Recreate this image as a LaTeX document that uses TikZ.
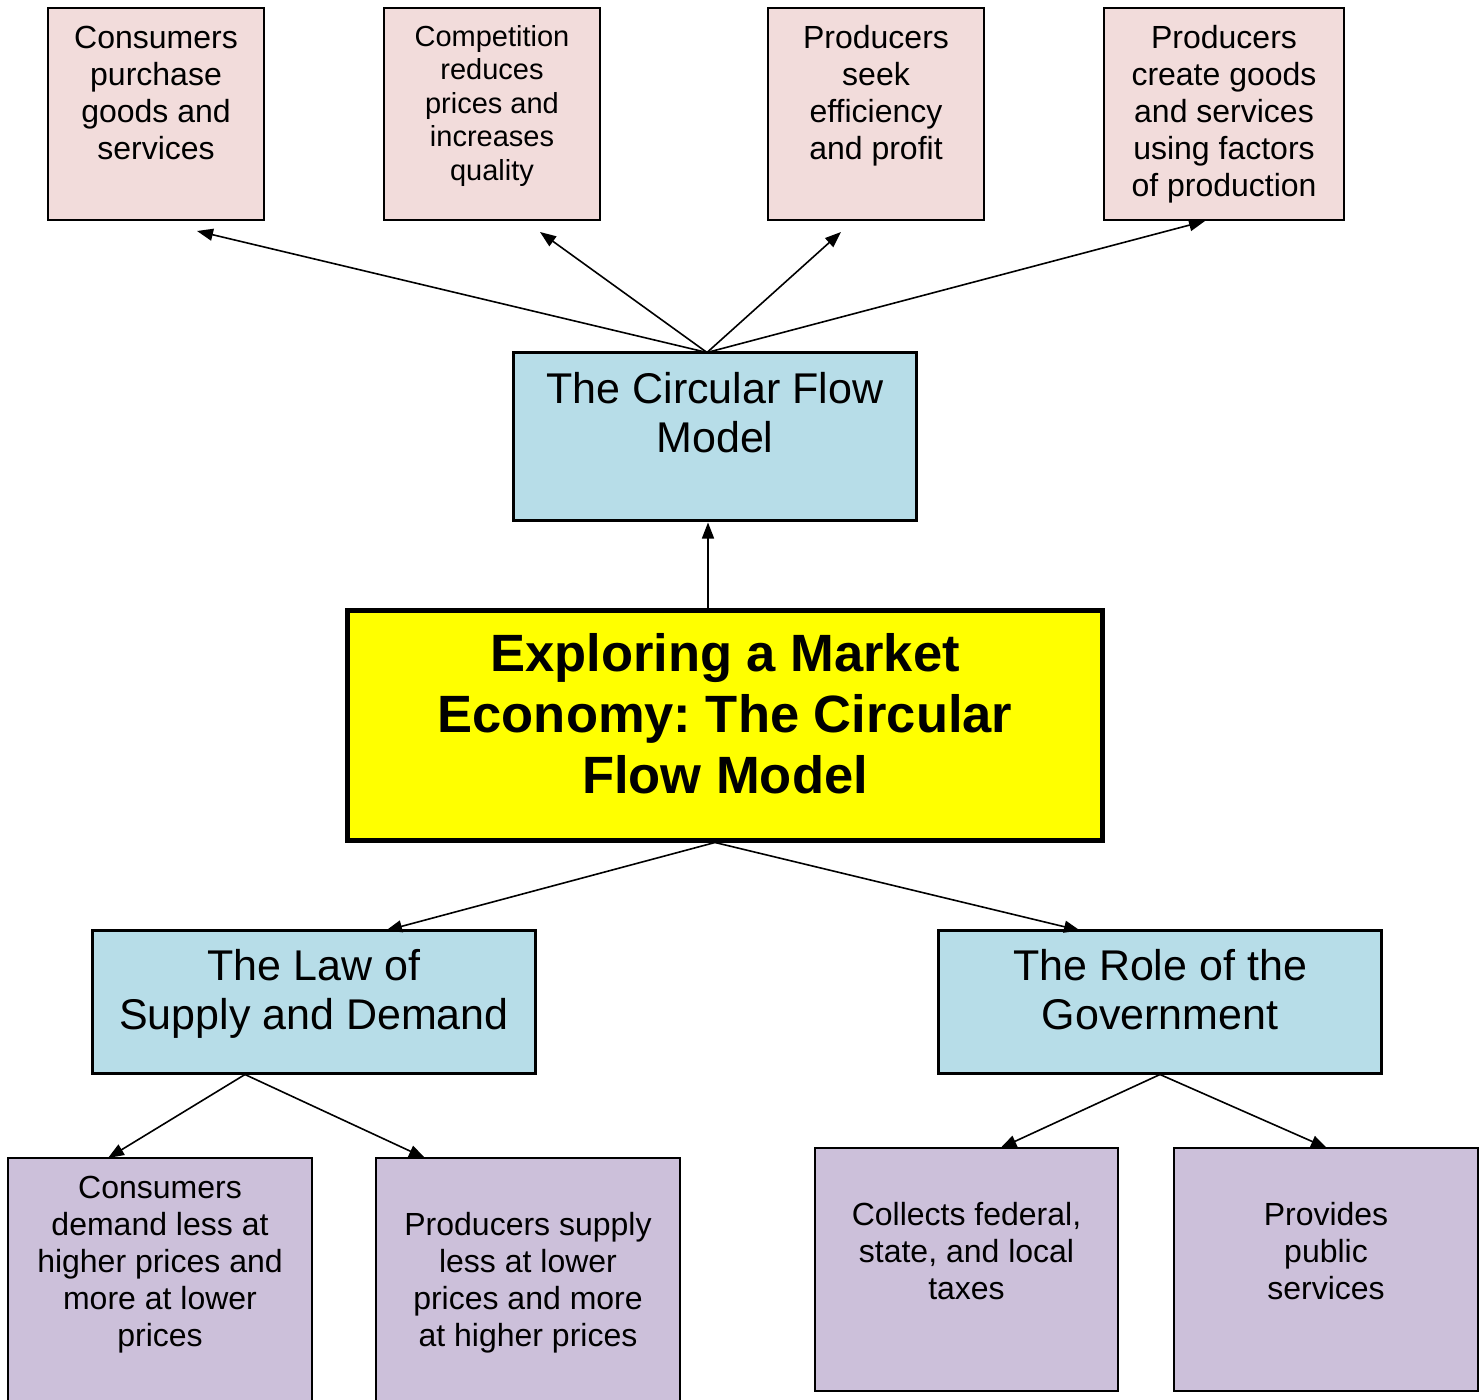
\documentclass[tikz,border=0pt]{standalone}
\usepackage{fontspec}
\setmainfont{Liberation Sans}
\usetikzlibrary{arrows.meta}
\frenchspacing
\definecolor{pinkfill}{HTML}{F2DCDB}
\definecolor{bluefill}{HTML}{B7DDE8}
\definecolor{yellowfill}{HTML}{FFFF00}
\definecolor{purplefill}{HTML}{CCC0DA}
\newcommand\boxtxt[5]{\parbox[c][#2][t]{#1}{\centering#4\vspace*{#3}\strut#5}}
\newcommand\fsmall{\fontsize{32pt}{37pt}\selectfont}
\newcommand\fcomp{\fontsize{29pt}{33.5pt}\selectfont}
\newcommand\fmid{\fontsize{43pt}{49pt}\selectfont}
\newcommand\ftitle{\fontsize{52.5pt}{61pt}\selectfont\bfseries}
\tikzset{
  basebox/.style={draw=black, anchor=north west, inner sep=0pt, outer sep=0pt},
  pinkbox/.style={basebox, fill=pinkfill, line width=1.5pt},
  purplebox/.style={basebox, fill=purplefill, line width=1.5pt},
  bluebox/.style={basebox, fill=bluefill, line width=3pt},
  titlebox/.style={basebox, fill=yellowfill, line width=5.5pt},
  arr/.style={line width=1.6pt, -{Triangle[length=16pt,width=12pt]}}
}
\begin{document}
\begin{tikzpicture}[x=1pt, y=-1pt]
\useasboundingbox (0,0) rectangle (1481,1400);
% top row
\node[pinkbox] (A) at (48,8) {\boxtxt{216pt}{212pt}{15pt}{\fsmall}{Consumers\\purchase\\goods and\\services}};
\node[pinkbox] (B) at (384,8) {\boxtxt{216pt}{212pt}{15pt}{\fcomp}{Competition\\reduces\\prices and\\increases\\quality}};
\node[pinkbox] (C) at (768,8) {\boxtxt{216pt}{212pt}{15pt}{\fsmall}{Producers\\seek\\efficiency\\and profit}};
\node[pinkbox] (D) at (1104,8) {\boxtxt{240pt}{212pt}{15pt}{\fsmall}{Producers\\create goods\\and services\\using factors\\of production}};
% middle
\node[bluebox] (E) at (513.5,352.5) {\boxtxt{403pt}{168pt}{16.7pt}{\fmid}{The Circular Flow\\Model}};
\node[titlebox] (F) at (347.5,610.5) {\boxtxt{755pt}{230pt}{18.3pt}{\ftitle}{Exploring a Market\\Economy: The Circular\\Flow Model}};
\node[bluebox] (G) at (92.5,930.5) {\boxtxt{443pt}{143pt}{16pt}{\fmid}{The Law of\\Supply and Demand}};
\node[bluebox] (H) at (938.5,930.5) {\boxtxt{443pt}{143pt}{16pt}{\fmid}{The Role of the\\Government}};
% bottom row
\node[purplebox] (I) at (8,1158) {\boxtxt{304pt}{262pt}{15pt}{\fsmall}{Consumers\\demand less at\\higher prices and\\more at lower\\prices}};
\node[purplebox] (J) at (376,1158) {\boxtxt{304pt}{262pt}{52pt}{\fsmall}{Producers supply\\less at lower\\prices and more\\at higher prices}};
\node[purplebox] (K) at (815,1148) {\boxtxt{303pt}{243pt}{52pt}{\fsmall}{Collects federal,\\state, and local\\taxes}};
\node[purplebox] (L) at (1174,1148) {\boxtxt{304pt}{243pt}{52pt}{\fsmall}{Provides\\public\\services}};
% connectors
\draw[arr] ([xshift=-8pt]E.north) -- ([xshift=41pt,yshift=-11pt]A.south);
\draw[arr] ([xshift=-8pt]E.north) -- ([xshift=48pt,yshift=-12pt]B.south);
\draw[arr] ([xshift=-8pt]E.north) -- ([xshift=-35pt,yshift=-12pt]C.south);
\draw[arr] ([xshift=-8pt]E.north) -- ([xshift=-19pt,yshift=-1pt]D.south);
\draw[arr] ([xshift=-17pt,yshift=2pt]F.north) -- ([xshift=-7pt,yshift=-2pt]E.south);
\draw[arr] ([xshift=-10pt,yshift=-2pt]F.south) -- ([xshift=72pt]G.north);
\draw[arr] ([xshift=-10pt,yshift=-2pt]F.south) -- ([xshift=-80pt]H.north);
\draw[arr] ([xshift=-69pt,yshift=-1pt]G.south) -- ([xshift=-52pt]I.north);
\draw[arr] ([xshift=-69pt,yshift=-1pt]G.south) -- ([xshift=-103pt]J.north);
\draw[arr] ([yshift=-1pt]H.south) -- ([xshift=34pt]K.north);
\draw[arr] ([yshift=-1pt]H.south) -- ([xshift=1pt]L.north);
\end{tikzpicture}
\end{document}
